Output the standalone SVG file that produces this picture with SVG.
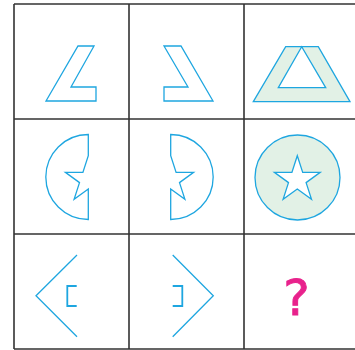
<svg xmlns="http://www.w3.org/2000/svg" width="355" height="350" viewBox="0 0 355 350">
<style>
.grid{stroke:#333;stroke-width:1.6;fill:none}
.s{fill:none;stroke:#1ea6e0;stroke-width:1.3;stroke-linejoin:miter}
.f{fill:#e2f1e6;stroke:#1ea6e0;stroke-width:1.3;fill-rule:evenodd}
.b{fill:none;stroke:#1ea6e0;stroke-width:1.8}
.q{font-family:"DejaVu Sans",sans-serif;font-size:50px;fill:#e8228c;stroke:#e8228c;stroke-width:1;text-anchor:middle}
</style>
<rect width="355" height="350" fill="#fff"/>
<g id="grid">
<path class="grid" d="M14,4H360M14,119H360M14,234H360M14,349H360M14,4V349M129,4V349M244,4V349"/>
</g>
<g id="c1"><polygon class="s" points="78,46 94,46 71,87 96,87 96,101 46,101"/></g>
<g id="c2"><polygon class="s" points="164,46 181,46 213,101 164,101 164,87 188,87"/></g>
<g id="c3"><path class="f" d="M285.7,46.7H318.3L350,101.7H253.3Z M301.7,46.7L278.3,87.7H325.7Z"/></g>
<g id="c4"><path class="s" d="M88.3,134.5A42.5,42.5 0 0 0 88.3,219.5V189L74.1,199.3L79.5,182.6L65.4,172.4L82.9,172.4L88.3,155.7Z"/></g>
<g id="c5"><path class="s" d="M170.7,134.5A42.5,42.5 0 0 1 170.7,219.5V189L184.9,199.3L179.5,182.6L193.6,172.4L176.1,172.4L170.7,155.7Z"/></g>
<g id="c6">
<circle class="f" cx="297.5" cy="177.5" r="42.5"/>
<polygon class="s" style="fill:#fff" points="297.3,155.7 302.7,172.4 320.2,172.4 306.1,182.6 311.5,199.3 297.3,189 283.1,199.3 288.5,182.6 274.4,172.4 291.9,172.4"/>
</g>
<g id="c7">
<polyline class="s" points="77,255 36,295.7 77,336.7"/>
<polyline class="b" points="76.7,286 67.3,286 67.3,306 76.7,306"/>
</g>
<g id="c8">
<polyline class="s" points="172.7,255 213.3,295.7 172.7,336.7"/>
<polyline class="b" points="172.7,286 182.3,286 182.3,306 172.7,306"/>
</g>
<g id="c9"><text class="q" x="296.5" y="315">?</text></g>
</svg>
